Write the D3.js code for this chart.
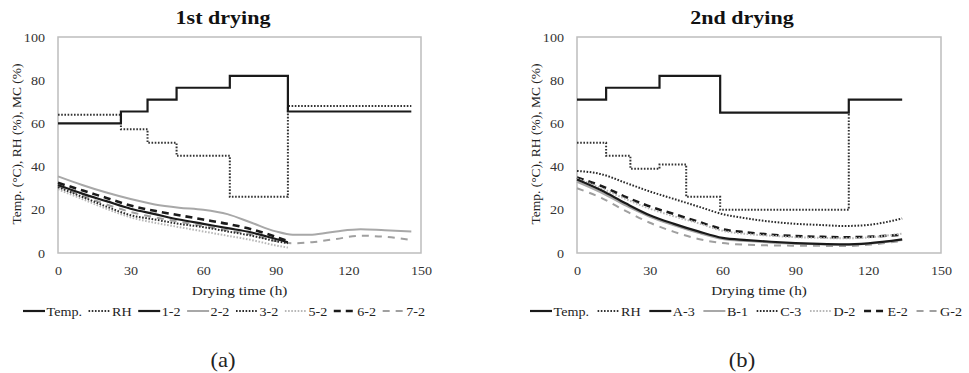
<!DOCTYPE html>
<html>
<head>
<meta charset="utf-8">
<script src="https://cdn.jsdelivr.net/npm/d3@7"></script>
<style>
  body { margin: 0; background: #fff; }
  svg { display: block; }
</style>
</head>
<body>
<svg id="chart" width="969" height="373"></svg>
<script>
// ---- data ----
const xTicks = [0, 30, 60, 90, 120, 150];
const yTicks = [0, 20, 40, 60, 80, 100];

// 1st drying
const tempA = [[0, 60], [26, 65.5], [37, 71], [49, 76.5], [71, 82], [95, 65.5], [146, 65.5]];
const rhA = [[0, 64], [26, 57.3], [37, 51], [49, 45], [71, 26], [95, 68], [146, 68]];
const timeAShort = [0, 10, 20, 30, 40, 50, 60, 70, 80, 90, 95];
const timeALong = [0, 10, 20, 30, 40, 50, 60, 70, 80, 90, 97, 105, 115, 125, 135, 146];
const mc1_2 = [31.5, 27.5, 24, 20.5, 18, 15.5, 13.5, 11.5, 9.5, 6.5, 5];
const mc2_2 = [35.5, 31.5, 28, 25, 22.5, 21, 20, 18, 14, 10, 8.5, 8.5, 10, 11, 10.5, 10];
const mc3_2 = [30.5, 26, 21.5, 17.5, 15.5, 13.5, 12, 10, 8, 5.5, 4.5];
const mc5_2 = [29.5, 25, 20.5, 16.5, 14, 12, 10, 8, 6, 3.5, 2.5];
const mc6_2 = [32.5, 29, 25.5, 22, 19.5, 17.5, 15.5, 13.5, 11, 7.5, 5.5];
const mc7_2 = [31, 26.5, 22.5, 19, 16.5, 14.5, 12.5, 10.5, 8.5, 5.5, 4.5, 5, 6.5, 8, 7.5, 6];

// 2nd drying
const tempB = [[0, 71], [12, 76.5], [34, 82], [59, 65], [112, 71], [134, 71]];
const rhB = [[0, 51], [12, 45], [22, 39], [34, 41], [45, 26], [59, 20], [112, 65]];
const timeB = [0, 10, 20, 30, 40, 50, 60, 70, 80, 90, 100, 110, 120, 134];
const mcA_3 = [34, 29, 23, 17.5, 13.5, 10, 7, 6, 5.2, 4.6, 4.2, 4, 4.5, 6.3];
const mcB_1 = [33, 28, 22, 16.8, 12.8, 9.3, 6.5, 5.5, 4.8, 4.3, 4, 3.8, 4.3, 6];
const mcC_3 = [38, 36.5, 32.5, 28.5, 25, 21.5, 18, 16, 14.5, 13.5, 13, 12.5, 13, 16];
const mcD_2 = [34.5, 30, 25, 20.5, 17, 13.8, 10.3, 8.8, 8, 7.3, 7, 6.8, 7.2, 9];
const mcE_2 = [35, 31, 26, 21.5, 18, 14.5, 11, 9.5, 8.5, 7.8, 7.5, 7.3, 7.5, 8.5];
const mcG_2 = [30, 25.5, 19.5, 14, 9.8, 6.5, 4.6, 3.8, 3.5, 3.4, 3.3, 3.2, 3.8, 5.6];

const FONT = "Liberation Serif";
const SX = 1.13; // source picture text is a bit wide
const styles = {
  temp:   { color: "#1a1a1a", width: 2.2, dash: null },
  rh:     { color: "#333", width: 2, dash: "1.6,1.6" },
  solidK: { color: "#1a1a1a", width: 2.2, dash: null },
  solidG: { color: "#a8a8a8", width: 2, dash: null },
  dotK:   { color: "#2a2a2a", width: 2, dash: "1.6,1.6" },
  dotG:   { color: "#b8b8b8", width: 2, dash: "1.6,1.6" },
  dashK:  { color: "#1a1a1a", width: 2.6, dash: "7,5" },
  dashG:  { color: "#a0a0a0", width: 2, dash: "7,6" }
};

const svg = d3.select("#chart");

function txt(g, x, y, s, size, anchor, weight) {
  return g.append("text")
    .attr("transform", `translate(${x},${y}) scale(${SX},1)`)
    .attr("text-anchor", anchor || "middle")
    .style("font-family", `"${FONT}", serif`)
    .attr("font-size", size)
    .attr("font-weight", weight || "normal")
    .attr("fill", "#222")
    .text(s);
}

function panel(cfg) {
  const g = svg.append("g");
  const x = d3.scaleLinear().domain([0, 150]).range([cfg.left, cfg.right]);
  const y = d3.scaleLinear().domain([0, 100]).range([253, 37]);

  // plot border
  g.append("rect")
    .attr("x", cfg.left).attr("y", 37)
    .attr("width", cfg.right - cfg.left).attr("height", 253 - 37)
    .attr("fill", "none").attr("stroke", "#bdbdbd").attr("stroke-width", 1.5);

  // axes
  const xa = g.append("g").attr("transform", "translate(0,253)")
    .call(d3.axisBottom(x).tickValues(xTicks).tickSize(0).tickPadding(13));
  const ya = g.append("g").attr("transform", `translate(${cfg.left},0)`)
    .call(d3.axisLeft(y).tickValues(yTicks).tickSize(0).tickPadding(11.5));
  [xa, ya].forEach(a => {
    a.attr("font-size", 12.5);
    a.select(".domain").remove();
    a.selectAll("text")
      .style("font-family", `"${FONT}", serif`)
      .attr("fill", "#333")
      .attr("transform", `scale(${SX},1)`);
  });

  // titles
  txt(g, cfg.titleX, 24, cfg.title, 19.5, "middle", "bold").attr("fill", "#111");
  txt(g, (cfg.left + cfg.right) / 2, 295, "Drying time (h)", 13.5);
  g.append("text")
    .attr("transform", `translate(${cfg.ylabX},144) rotate(-90)`)
    .attr("text-anchor", "middle").style("font-family", `"${FONT}", serif`)
    .attr("font-size", 13.5).attr("fill", "#222")
    .text("Temp. (\u00B0C), RH (%), MC (%)");
  txt(g, cfg.titleX, 367, cfg.tag, 20);

  const step = d3.line().x(d => x(d[0])).y(d => y(d[1])).curve(d3.curveStepAfter);
  const smooth = d3.line().x(d => x(d[0])).y(d => y(d[1])).curve(d3.curveMonotoneX);

  const draw = (pathD, st) => g.append("path")
    .attr("d", pathD).attr("fill", "none")
    .attr("stroke", st.color).attr("stroke-width", st.width)
    .attr("stroke-dasharray", st.dash);

  // curves first (reverse order), then RH and Temp on top
  cfg.series.slice(2).reverse().forEach(s => {
    const pts = s.t.map((t, i) => [t, s.v[i]]);
    draw(smooth(pts), styles[s.style]);
  });
  draw(step(cfg.series[1].pts), styles.rh);
  draw(step(cfg.series[0].pts), styles.temp);

  // legend
  const lg = g.append("g");
  const S = 22, gap1 = 1.5;
  const widths = cfg.series.map(s => {
    const t = txt(lg, 0, 0, s.name, 12.5, "start");
    const w = t.node().getComputedTextLength() * SX;
    t.remove();
    return w;
  });
  const natural = d3.sum(widths) + cfg.series.length * (S + gap1);
  const G = (cfg.legEnd - cfg.legStart - natural) / (cfg.series.length - 1);
  let cx = cfg.legStart;
  cfg.series.forEach((s, i) => {
    const st = styles[s.style];
    lg.append("line")
      .attr("x1", cx).attr("x2", cx + S).attr("y1", 311).attr("y2", 311)
      .attr("stroke", st.color).attr("stroke-width", st.width)
      .attr("stroke-dasharray", st.dash);
    txt(lg, cx + S + gap1, 315.5, s.name, 12.5, "start");
    cx += S + gap1 + widths[i] + G;
  });
}

panel({
  left: 58, right: 421, titleX: 223, ylabX: 21, title: "1st drying", tag: "(a)",
  legStart: 23, legEnd: 425,
  series: [
    { name: "Temp.", style: "temp", pts: tempA },
    { name: "RH", style: "rh", pts: rhA },
    { name: "1-2", style: "solidK", t: timeAShort, v: mc1_2 },
    { name: "2-2", style: "solidG", t: timeALong, v: mc2_2 },
    { name: "3-2", style: "dotK", t: timeAShort, v: mc3_2 },
    { name: "5-2", style: "dotG", t: timeAShort, v: mc5_2 },
    { name: "6-2", style: "dashK", t: timeAShort, v: mc6_2 },
    { name: "7-2", style: "dashG", t: timeALong, v: mc7_2 }
  ]
});

panel({
  left: 577, right: 941, titleX: 742, ylabX: 540, title: "2nd drying", tag: "(b)",
  legStart: 530, legEnd: 962,
  series: [
    { name: "Temp.", style: "temp", pts: tempB },
    { name: "RH", style: "rh", pts: rhB },
    { name: "A-3", style: "solidK", t: timeB, v: mcA_3 },
    { name: "B-1", style: "solidG", t: timeB, v: mcB_1 },
    { name: "C-3", style: "dotK", t: timeB, v: mcC_3 },
    { name: "D-2", style: "dotG", t: timeB, v: mcD_2 },
    { name: "E-2", style: "dashK", t: timeB, v: mcE_2 },
    { name: "G-2", style: "dashG", t: timeB, v: mcG_2 }
  ]
});
</script>
</body>
</html>
